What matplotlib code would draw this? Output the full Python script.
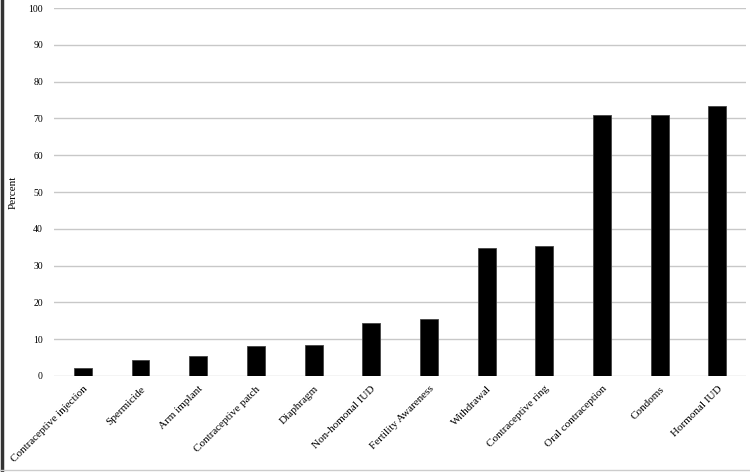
import matplotlib
matplotlib.use("Agg")
import matplotlib.pyplot as plt
from matplotlib.lines import Line2D

methods = [
    "Contraceptive injection", "Spermicide", "Arm implant", "Contraceptive patch",
    "Diaphragm", "Non-homonal IUD", "Fertility Awareness", "Withdrawal",
    "Contraceptive ring", "Oral contraception", "Condoms", "Hormonal IUD",
]
percent = [2.1, 4.3, 5.4, 8.1, 8.3, 14.3, 15.5, 34.8, 35.3, 70.9, 70.9, 73.4]
yticks = list(range(0, 101, 10))

plt.rcParams["font.family"] = ["Liberation Serif", "DejaVu Serif"]

fig = plt.figure(figsize=(7.5, 4.72), dpi=100)
ax = fig.add_axes([0.072, 0.2034, 0.923, 0.7796])

x = range(len(methods))
ax.bar(x, percent, width=0.31, color="black", edgecolor="#444444", linewidth=0.6, zorder=3)

ax.set_xlim(-0.5, len(methods) - 0.5)
ax.set_ylim(0, 100)
ax.set_yticks(yticks)
ax.yaxis.grid(True, color="#c8c8c8", linewidth=1.0, zorder=0)
ax.set_axisbelow(True)
for s in ax.spines.values():
    s.set_visible(False)
ax.tick_params(axis="both", length=0)
ax.tick_params(axis="y", labelsize=7, pad=8)
ax.set_xticks(list(x))
ax.set_xticklabels(methods, rotation=45, ha="right", rotation_mode="anchor", fontsize=8)
ax.tick_params(axis="x", pad=6)
ax.set_ylabel("Percent", fontsize=8)
ax.yaxis.set_label_coords(-0.053, 0.5)

# scanned-page edges
fig.add_artist(Line2D([0.002, 0.002], [0, 1], transform=fig.transFigure, color="#333333", linewidth=2.5))
fig.add_artist(Line2D([0, 1], [0.004, 0.004], transform=fig.transFigure, color="#cccccc", linewidth=1))

fig.savefig("out.png", dpi=100)
